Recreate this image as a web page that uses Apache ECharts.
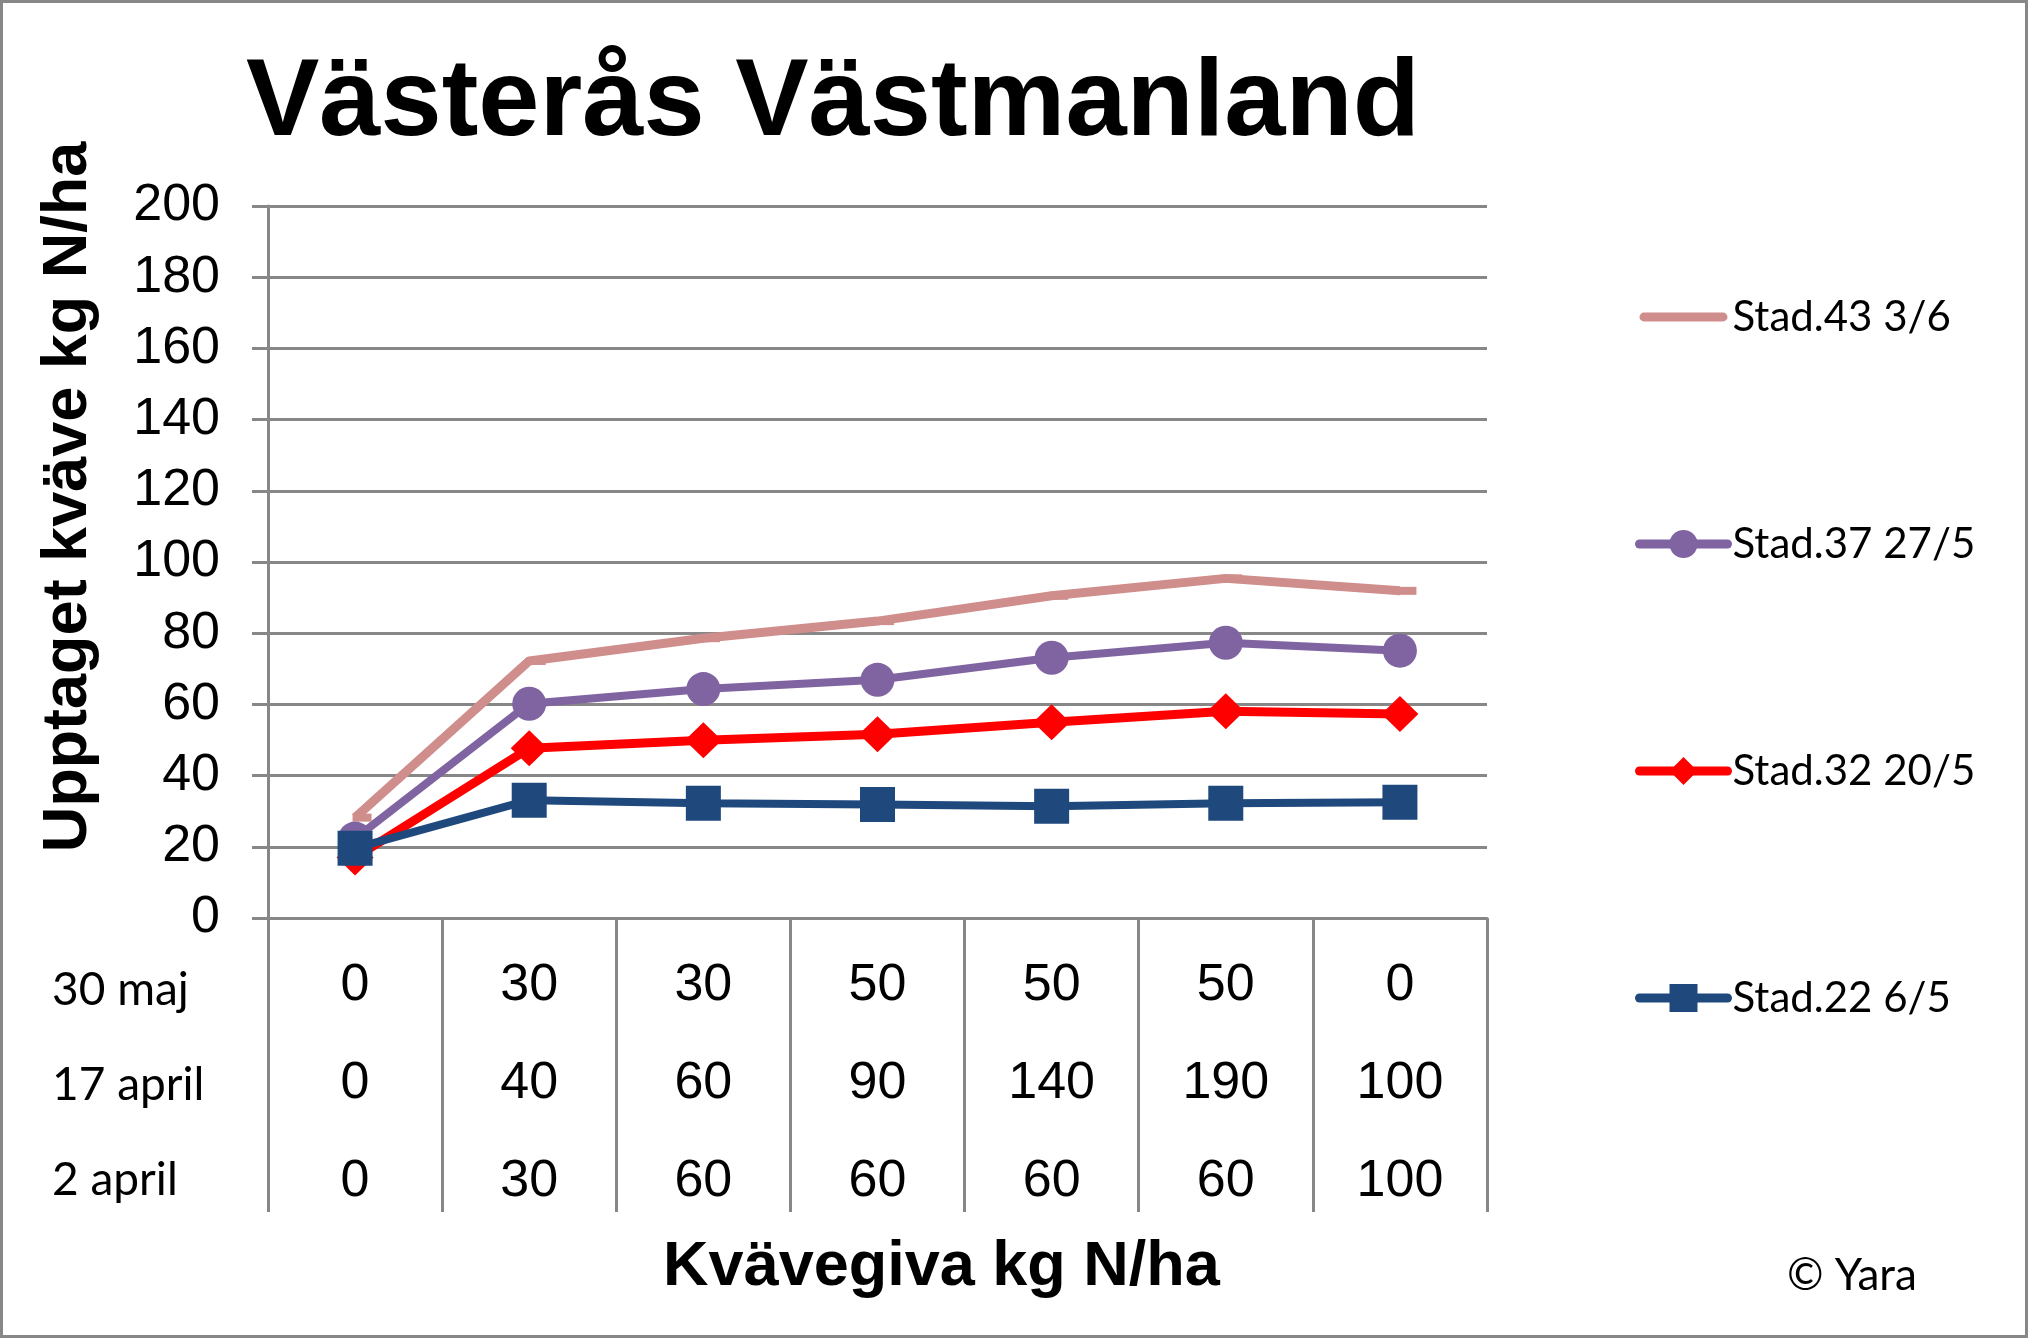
<!DOCTYPE html>
<html>
<head>
<meta charset="utf-8">
<script src="https://cdn.jsdelivr.net/npm/echarts@6/dist/echarts.min.js"></script>
<style>
  html, body { margin: 0; padding: 0; background: #ffffff; }
  #chart { width: 2028px; height: 1338px; }
</style>
</head>
<body>
<div id="chart"></div>
<script>
// ---- Data ----
const titleText = 'Västerås Västmanland';
const yAxisName = 'Upptaget kväve kg N/ha';
const xAxisName = 'Kvävegiva kg N/ha';
const copyrightText = '© Yara';

const rowLabels = ['30 maj', '17 april', '2 april'];
const dose30maj = [0, 30, 30, 50, 50, 50, 0];
const dose17april = [0, 40, 60, 90, 140, 190, 100];
const dose2april = [0, 30, 60, 60, 60, 60, 100];

const seriesNames = ['Stad.43 3/6', 'Stad.37 27/5', 'Stad.32 20/5', 'Stad.22 6/5'];
const stad43 = [28.2, 72.2, 78.6, 83.4, 90.5, 95.4, 91.9];
const stad37 = [22.3, 60.2, 64.3, 66.9, 73.1, 77.3, 75.1];
const stad32 = [17.0, 47.7, 49.9, 51.6, 55.0, 58.1, 57.3];
const stad22 = [19.6, 33.1, 32.2, 31.9, 31.4, 32.2, 32.5];

const yMin = 0, yMax = 200, yInterval = 20;

// categories built from the three dose rows
const categories = dose30maj.map((v, i) => v + '\n' + dose17april[i] + '\n' + dose2april[i]);

// ---- Styles ----
const grey = '#878787';
const arial = 'Liberation Sans, Arial, sans-serif';
const calibri = 'Lato, Carlito, sans-serif';
const lineIcon = 'path://M5,0 H95 A5,5 0 0 1 95,10 H5 A5,5 0 0 1 5,0 Z';

const chart = echarts.init(document.getElementById('chart'), null, { renderer: 'canvas' });

const gridLeft = 268, gridRight = 541, gridTop = 206, gridBottom = 420;

const option = {
  backgroundColor: '#ffffff',
  animation: false,
  title: {
    text: titleText,
    left: 246,
    top: 43,
    padding: 0,
    textStyle: { fontFamily: arial, fontWeight: 'bold', fontSize: 110, color: '#000', lineHeight: 124 }
  },
  legend: {
    orient: 'vertical',
    left: 1635,
    top: 295,
    padding: 0,
    itemWidth: 88,
    itemHeight: 35,
    itemGap: 183,
    data: [
      { name: seriesNames[0], icon: lineIcon },
      { name: seriesNames[1] },
      { name: seriesNames[2] },
      { name: seriesNames[3] }
    ],
    lineStyle: { width: 9, cap: 'round' },
    textStyle: { fontFamily: calibri, fontSize: 42, color: '#000', lineHeight: 44 }
  },
  grid: { left: gridLeft, right: gridRight, top: gridTop, bottom: gridBottom, containLabel: false },
  xAxis: {
    type: 'category',
    data: categories,
    boundaryGap: true,
    name: xAxisName,
    nameLocation: 'middle',
    nameGap: 311,
    nameTextStyle: { fontFamily: arial, fontWeight: 'bold', fontSize: 63, color: '#000', lineHeight: 63, padding: [0, 0, 0, 128] },
    axisLine: { show: true, lineStyle: { color: grey, width: 3 } },
    axisTick: { show: true, length: 294, lineStyle: { color: grey, width: 3 } },
    axisLabel: { interval: 0, margin: 19, fontFamily: arial, fontSize: 52, color: '#000', lineHeight: 98, align: 'center' },
    splitLine: { show: false }
  },
  yAxis: {
    type: 'value',
    min: yMin, max: yMax, interval: yInterval,
    name: yAxisName,
    nameLocation: 'middle',
    nameGap: 168,
    nameTextStyle: { fontFamily: arial, fontWeight: 'bold', fontSize: 63, color: '#000', lineHeight: 63, padding: [0, 0, 0, 130] },
    axisLine: { show: true, lineStyle: { color: grey, width: 3 } },
    axisTick: { show: true, length: 16, lineStyle: { color: grey, width: 3 } },
    axisLabel: { margin: 48, fontFamily: arial, fontSize: 52, color: '#000' },
    splitLine: { show: true, lineStyle: { color: grey, width: 3 } }
  },
  series: [
    {
      name: seriesNames[0], type: 'line', data: stad43,
      symbol: 'rect', symbolSize: [19, 8], symbolOffset: [7, 0],
      color: '#CF8D8C',
      itemStyle: { color: '#CF8D8C' },
      lineStyle: { width: 9, color: '#CF8D8C' },
      z: 2
    },
    {
      name: seriesNames[1], type: 'line', data: stad37,
      symbol: 'circle', symbolSize: 34,
      color: '#8064A2',
      itemStyle: { color: '#8064A2' },
      lineStyle: { width: 8, color: '#8064A2' },
      z: 3
    },
    {
      name: seriesNames[2], type: 'line', data: stad32,
      symbol: 'diamond', symbolSize: [37, 36],
      color: '#FF0000',
      itemStyle: { color: '#FF0000' },
      lineStyle: { width: 9, color: '#FF0000' },
      z: 4
    },
    {
      name: seriesNames[3], type: 'line', data: stad22,
      symbol: 'rect', symbolSize: 35,
      color: '#1F497D',
      itemStyle: { color: '#1F497D' },
      lineStyle: { width: 8, color: '#1F497D' },
      z: 5
    }
  ],
  graphic: [
    {
      type: 'rect', silent: true, z: 0,
      shape: { x: 1.5, y: 1.5, width: 2025, height: 1335 },
      style: { fill: 'none', stroke: grey, lineWidth: 3 }
    },
    {
      type: 'group', silent: true,
      children: rowLabels.map((t, i) => ({
        type: 'text',
        x: 52, y: 990 + i * 95,
        style: { text: t, fontFamily: calibri, fontSize: 46, fill: '#000', verticalAlign: 'middle', align: 'left' }
      }))
    },
    {
      type: 'text', silent: true,
      x: 1787, y: 1276,
      style: { text: copyrightText, fontFamily: calibri, fontSize: 44, fill: '#000', verticalAlign: 'middle', align: 'left' }
    }
  ]
};

chart.setOption(option);
</script>
</body>
</html>
